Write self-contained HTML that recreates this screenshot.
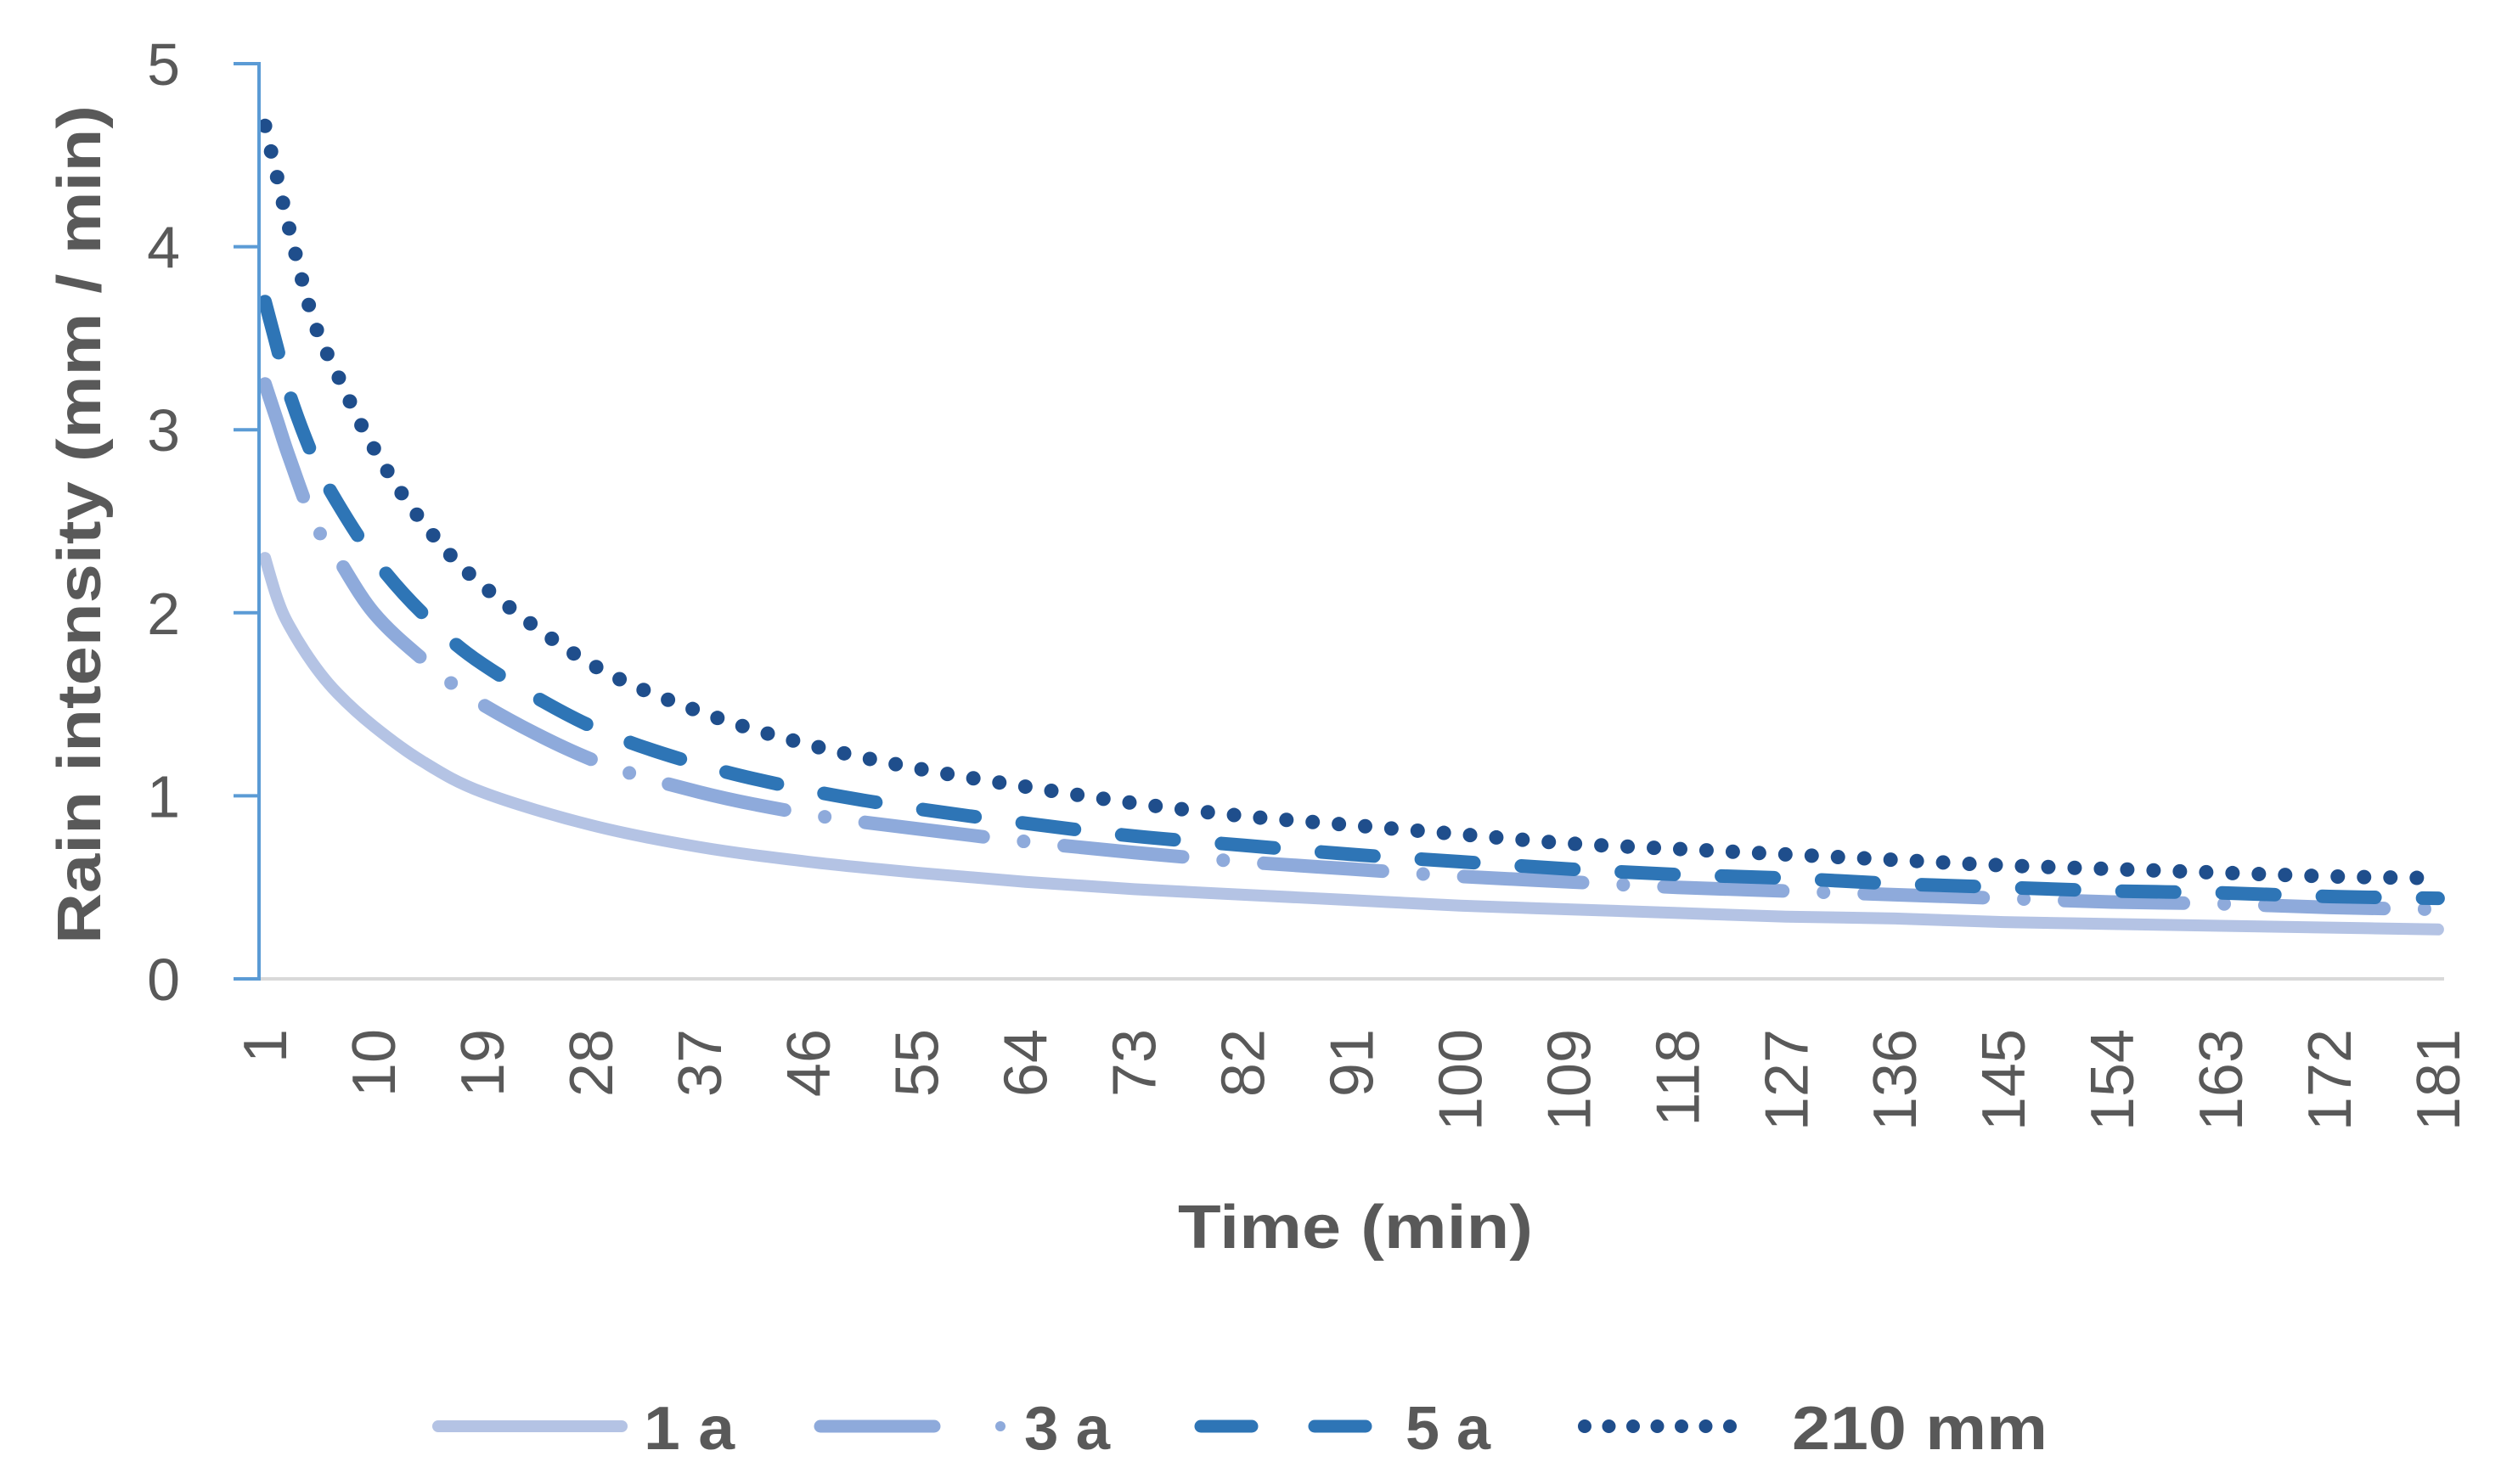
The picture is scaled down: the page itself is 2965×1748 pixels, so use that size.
<!DOCTYPE html>
<html><head><meta charset="utf-8"><style>
html,body{margin:0;padding:0;background:#fff;}
svg{display:block;font-family:"Liberation Sans",sans-serif;}
</style></head><body>
<svg id="chart" width="2965" height="1748" viewBox="0 0 2965 1748" xmlns="http://www.w3.org/2000/svg">
<rect width="2965" height="1748" fill="#fff"/>
<g id="grid"></g>
<g id="series"></g>
<g id="axes"></g>
<text transform="translate(118,618) rotate(-90)" text-anchor="middle" font-size="72" font-weight="bold" fill="#595959" textLength="988" lengthAdjust="spacingAndGlyphs">Rain intensity (mm / min)</text>
<text x="1596" y="1470" text-anchor="middle" font-size="72" font-weight="bold" fill="#595959" textLength="418" lengthAdjust="spacingAndGlyphs">Time (min)</text>
<g id="legend">
 <line x1="516" y1="1680" x2="732" y2="1680" stroke="#b4c3e4" stroke-width="14" stroke-linecap="round"/>
 <text x="758" y="1707" font-size="72" font-weight="bold" fill="#595959" textLength="107" lengthAdjust="spacingAndGlyphs">1 a</text>
 <line x1="966" y1="1680" x2="1100" y2="1680" stroke="#8eaadb" stroke-width="15" stroke-linecap="round"/>
 <circle cx="1178" cy="1680" r="6" fill="#8eaadb"/>
 <text x="1206" y="1707" font-size="72" font-weight="bold" fill="#595959" textLength="101" lengthAdjust="spacingAndGlyphs">3 a</text>
 <line x1="1414" y1="1680" x2="1474" y2="1680" stroke="#2e75b6" stroke-width="15" stroke-linecap="round"/>
 <line x1="1548" y1="1680" x2="1608" y2="1680" stroke="#2e75b6" stroke-width="15" stroke-linecap="round"/>
 <text x="1655" y="1707" font-size="72" font-weight="bold" fill="#595959" textLength="100" lengthAdjust="spacingAndGlyphs">5 a</text>
 <line x1="1866" y1="1680" x2="2060" y2="1680" stroke="#1f4e8c" stroke-width="16" stroke-linecap="round" stroke-dasharray="0 28.5"/>
 <text x="2110" y="1707" font-size="72" font-weight="bold" fill="#595959" textLength="301" lengthAdjust="spacingAndGlyphs">210 mm</text>
</g>
</svg>
<script>
const times = [1,2,3,5,7,10,14,19,28,37,46,55,64,73,82,91,100,109,118,127,136,145,154,163,172,181];
const s1a  = [2.3,2.08,1.93,1.72,1.56,1.38,1.19,1.02,0.84,0.72,0.64,0.58,0.53,0.49,0.46,0.43,0.40,0.38,0.36,0.34,0.33,0.31,0.30,0.29,0.28,0.27];
const s3a  = [3.25,3.05,2.85,2.5,2.3,2.0,1.75,1.5,1.2,1.02,0.9,0.82,0.75,0.69,0.64,0.6,0.56,0.53,0.5,0.48,0.46,0.44,0.42,0.41,0.39,0.38];
const s5a  = [3.7,3.45,3.2,2.85,2.6,2.3,2.0,1.72,1.38,1.17,1.03,0.93,0.85,0.78,0.73,0.68,0.64,0.6,0.57,0.55,0.52,0.5,0.48,0.47,0.45,0.44];
const s210 = [4.66,4.38,4.1,3.6,3.3,2.9,2.5,2.15,1.72,1.46,1.28,1.15,1.05,0.96,0.89,0.84,0.79,0.74,0.71,0.68,0.65,0.62,0.6,0.58,0.56,0.55];
const xTickLabels = [1,10,19,28,37,46,55,64,73,82,91,100,109,118,127,136,145,154,163,172,181];
const yTickLabels = [0,1,2,3,4,5];

const NS="http://www.w3.org/2000/svg";
const X0=305, X1=2878, Y0=1153, Y5=75, NCAT=181, YMAX=5;
function xs(t){return X0+(t-0.5)*(X1-X0)/NCAT;}
function ys(v){return Y0-v*(Y0-Y5)/YMAX;}
function mk(tag,attrs,parent){const e=document.createElementNS(NS,tag);for(const k in attrs)e.setAttribute(k,attrs[k]);parent.appendChild(e);return e;}

const axes=document.getElementById('axes');
const xl=mk('line',{x1:X0,y1:Y0,x2:X1,y2:Y0,stroke:'#d9d9d9','stroke-width':4},axes);


const yl=mk('line',{x1:X0,y1:Y5-2,x2:X0,y2:Y0+2,stroke:'#5b9bd5','stroke-width':4},axes);


yTickLabels.forEach(v=>{
  const tk=mk('line',{x1:275,y1:ys(v),x2:X0,y2:ys(v),stroke:'#5b9bd5','stroke-width':4},axes);
  
  
  const t=mk('text',{x:212,y:ys(v)+25,'text-anchor':'end','font-size':70,fill:'#595959'},axes);
  t.textContent=v;
  
  
});
xTickLabels.forEach(v=>{
  const x=xs(v)+25;
  const t=mk('text',{transform:`translate(${x},1212) rotate(-90)`,'text-anchor':'end','font-size':72,fill:'#595959'},axes);
  t.textContent=v;
  
  
});

const series=document.getElementById('series');
function smoothPath(vals){
  const p=times.map((t,i)=>[xs(t),ys(vals[i])]);
  let d=`M${p[0][0]},${p[0][1]}`;
  for(let i=0;i<p.length-1;i++){
    const p0=p[i-1]||p[i],p1=p[i],p2=p[i+1],p3=p[i+2]||p2;
    const c1=[p1[0]+(p2[0]-p0[0])/6,p1[1]+(p2[1]-p0[1])/6];
    const c2=[p2[0]-(p3[0]-p1[0])/6,p2[1]-(p3[1]-p1[1])/6];
    d+=` C${c1[0]},${c1[1]} ${c2[0]},${c2[1]} ${p2[0]},${p2[1]}`;
  }
  return d;
}
const cfg=[
 [s1a,'series-1a','#b4c3e4',14,null],
 [s3a,'series-3a','#8eaadb',16,'140 48 0 48'],
 [s5a,'series-5a','#2e75b6',16,'62 56'],
 [s210,'series-210mm','#1f4e8c',17,'0 31']
];
cfg.forEach(([vals,name,col,w,dash])=>{
  const a={d:smoothPath(vals),fill:'none',stroke:col,'stroke-width':w,'stroke-linecap':'round','stroke-linejoin':'round'};
  if(dash)a['stroke-dasharray']=dash;
  const p=mk('path',a,series);
  
  
});
</script>
</body></html>
